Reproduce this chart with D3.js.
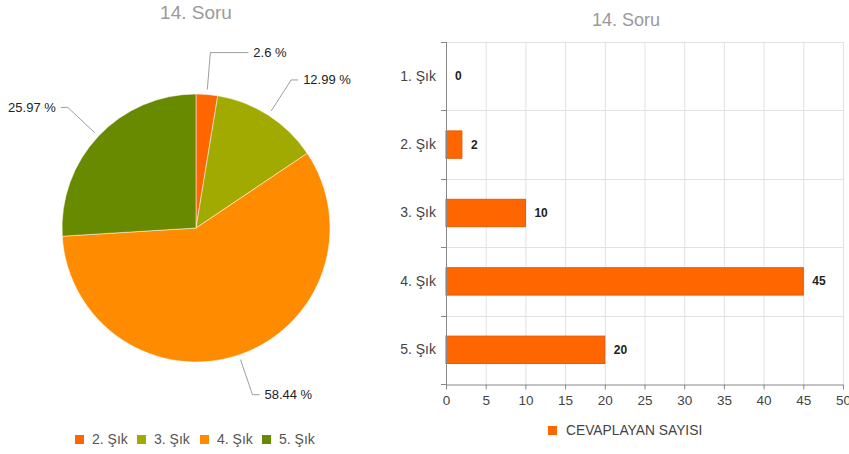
<!DOCTYPE html>
<html>
<head>
<meta charset="utf-8">
<script src="https://cdn.jsdelivr.net/npm/d3@7"></script>
<style>
  body { margin: 0; background: #fff; }
  svg { font-family: "Liberation Sans", Arial, sans-serif; }
</style>
</head>
<body>
<script>
// Données du graphique
const title = "14. Soru";
const categories = ["1. Şık", "2. Şık", "3. Şık", "4. Şık", "5. Şık"];
const counts = [0, 2, 10, 45, 20];
const seriesName = "CEVAPLAYAN SAYISI";
const xTicks = [0, 5, 10, 15, 20, 25, 30, 35, 40, 45, 50];

// Couleurs des parts du camembert
const sliceColors = {
    "1. Şık": "#3366CC",
    "2. Şık": "#FF6600",
    "3. Şık": "#A0AA00",
    "4. Şık": "#FF8C00",
    "5. Şık": "#688A00"
};
const barColor = "#FF6600";

const width = 849, height = 454;
const svg = d3.select("body").append("svg").attr("width", width).attr("height", height);

drawPie();
drawBars();

function drawPie() {
    const cx = 196, cy = 228, r = 134;
    const g = svg.append("g");

    g.append("text")
        .attr("x", cx).attr("y", 19)
        .attr("text-anchor", "middle")
        .style("font-size", "19px")
        .style("fill", "#9a9a9a")
        .text(title);

    const slices = categories.map((c, i) => ({ cat: c, value: counts[i] })).filter(d => d.value > 0);
    const total = d3.sum(slices, d => d.value);

    const pie = d3.pie().sort(null).value(d => d.value);
    const arcs = pie(slices);
    const arc = d3.arc().innerRadius(0).outerRadius(r);

    const pg = g.append("g").attr("transform", `translate(${cx},${cy})`);
    pg.selectAll(".slice")
        .data(arcs)
        .enter()
        .append("path")
        .attr("class", "slice")
        .attr("d", arc)
        .style("fill", d => sliceColors[d.data.cat])
        .style("stroke", "#fff")
        .style("stroke-width", 0.5);

    // Étiquettes avec lignes de rappel
    const r1 = r + 5, r2 = r + 42;
    const extra = { "2. Şık": 38 }; // allonger la ligne pour éviter le chevauchement
    arcs.forEach(d => {
        const a = (d.startAngle + d.endAngle) / 2;
        const x1 = Math.sin(a) * r1, y1 = -Math.cos(a) * r1;
        const x2 = Math.sin(a) * r2, y2 = -Math.cos(a) * r2;
        const right = x2 >= 0;
        const len = extra[d.data.cat] || 7;
        const x3 = x2 + (right ? len : -len);
        pg.append("polyline")
            .attr("points", `${x1},${y1} ${x2},${y2} ${x3},${y2}`)
            .style("fill", "none")
            .style("stroke", "#9e9e9e")
            .style("stroke-width", 1);
        const pct = Math.round(d.data.value / total * 10000) / 100;
        pg.append("text")
            .attr("x", x3 + (right ? 5 : -5))
            .attr("y", y2 + 4.5)
            .attr("text-anchor", right ? "start" : "end")
            .style("font-size", "13px")
            .style("fill", "#222")
            .text(`${pct} %`);
    });

    // Légende
    const legendX = [75, 137, 200, 262];
    slices.forEach((d, i) => {
        g.append("rect")
            .attr("x", legendX[i]).attr("y", 435)
            .attr("width", 9).attr("height", 9)
            .style("fill", sliceColors[d.cat]);
        g.append("text")
            .attr("x", legendX[i] + 17).attr("y", 444)
            .style("font-size", "14px")
            .style("fill", "#555")
            .text(d.cat);
    });
}

function drawBars() {
    const left = 446, right = 843, top = 42, bottom = 384;
    const g = svg.append("g");

    g.append("text")
        .attr("x", 626).attr("y", 26)
        .attr("text-anchor", "middle")
        .style("font-size", "18px")
        .style("fill", "#9a9a9a")
        .text(title);

    const x = d3.scaleLinear().domain([0, 50]).range([left, right]);
    const y = d3.scaleBand().domain(categories).range([top, bottom]).paddingInner(0.6).paddingOuter(0.3);
    const band = d3.scaleBand().domain(categories).range([top, bottom]);

    // Grille verticale
    g.selectAll(".vgrid")
        .data(xTicks.slice(1))
        .enter()
        .append("line")
        .attr("class", "vgrid")
        .attr("x1", d => x(d) + 0.5).attr("x2", d => x(d) + 0.5)
        .attr("y1", top).attr("y2", bottom)
        .style("stroke", "#e2e2e2");

    // Grille horizontale
    const bounds = categories.map(c => band(c)).concat([bottom]);
    g.selectAll(".hgrid")
        .data(bounds.slice(0, -1))
        .enter()
        .append("line")
        .attr("class", "hgrid")
        .attr("x1", left).attr("x2", right + 0.5)
        .attr("y1", d => Math.round(d) + 0.5).attr("y2", d => Math.round(d) + 0.5)
        .style("stroke", "#e2e2e2");

    // Barres
    g.selectAll(".bar")
        .data(categories.map((c, i) => ({ cat: c, value: counts[i] })))
        .enter()
        .append("rect")
        .attr("class", "bar")
        .attr("x", x(0))
        .attr("y", d => y(d.cat))
        .attr("width", d => x(d.value) - x(0))
        .attr("height", y.bandwidth())
        .style("fill", barColor)
        .style("stroke", d => d.value > 0 ? "#e55a00" : "none")
        .style("stroke-width", 1);

    // Valeurs
    g.selectAll(".val")
        .data(categories.map((c, i) => ({ cat: c, value: counts[i] })))
        .enter()
        .append("text")
        .attr("class", "val")
        .attr("x", d => x(d.value) + 9)
        .attr("y", d => y(d.cat) + y.bandwidth() / 2 + 4)
        .style("font-size", "12px")
        .style("font-weight", "bold")
        .style("fill", "#222")
        .text(d => d.value);

    // Axe Y
    const yAxis = d3.axisLeft(band).tickSize(0).tickPadding(10);
    const ya = g.append("g").attr("transform", `translate(${left},0)`).call(yAxis);
    ya.select(".domain").remove();
    ya.selectAll("text").style("font-size", "14px").style("fill", "#444");
    g.selectAll(".ytick")
        .data(bounds)
        .enter()
        .append("line")
        .attr("class", "ytick")
        .attr("x1", left - 5).attr("x2", left)
        .attr("y1", d => Math.round(d) + 0.5).attr("y2", d => Math.round(d) + 0.5)
        .style("stroke", "#888");
    g.append("line")
        .attr("x1", left + 0.5).attr("x2", left + 0.5)
        .attr("y1", top).attr("y2", bottom + 5)
        .style("stroke", "#888");

    // Axe X
    const xAxis = d3.axisBottom(x).tickValues(xTicks).tickSize(5).tickPadding(6).tickSizeOuter(0);
    const xa = g.append("g").attr("transform", `translate(0,${bottom + 0.5})`).call(xAxis);
    xa.select(".domain").style("stroke", "#888");
    xa.selectAll(".tick line").style("stroke", "#888");
    xa.selectAll("text").style("font-size", "13.5px").style("fill", "#444");

    // Légende
    g.append("rect")
        .attr("x", 548).attr("y", 426)
        .attr("width", 9).attr("height", 9)
        .style("fill", barColor);
    g.append("text")
        .attr("x", 566).attr("y", 435)
        .style("font-size", "13.8px")
        .style("fill", "#444")
        .text(seriesName);
}
</script>
</body>
</html>
